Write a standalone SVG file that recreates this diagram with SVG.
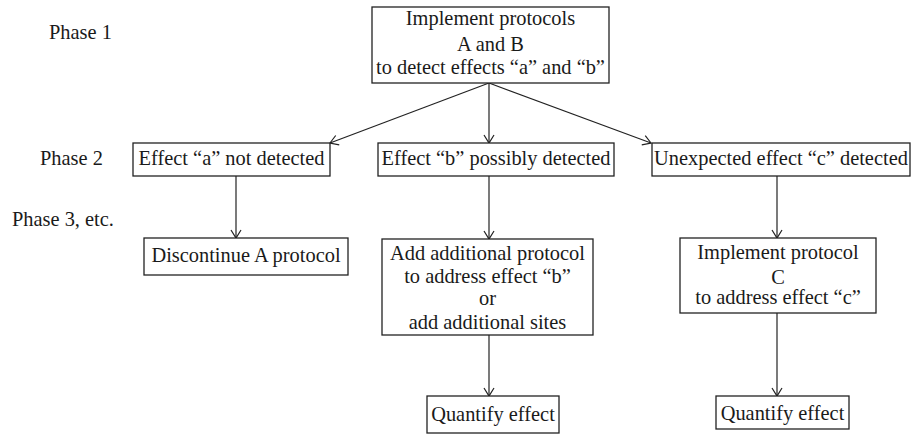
<svg xmlns="http://www.w3.org/2000/svg" width="912" height="435" viewBox="0 0 912 435">
<defs>
<marker id="arr" markerUnits="userSpaceOnUse" markerWidth="12" markerHeight="12" refX="10" refY="6" orient="auto" viewBox="0 0 12 12">
<path d="M2,1 L10,6 L2,11" fill="none" stroke="#222" stroke-width="1.2"/>
</marker>
<style>
text{font-family:'Liberation Serif','DejaVu Serif','Times New Roman',serif;font-size:20.4px;fill:#1a1a1a}
.c{text-anchor:middle}
.b{fill:#fff;stroke:#222;stroke-width:1.3}
.e{stroke:#222;stroke-width:1.2;fill:none;marker-end:url(#arr)}
</style>
</defs>
<rect width="912" height="435" fill="#fff"/>
<g id="phases">
<text x="49" y="39">Phase 1</text>
<text x="40" y="165">Phase 2</text>
<text x="12" y="226">Phase 3, etc.</text>
</g>
<g id="connectors">
<line class="e" x1="489" y1="83" x2="330" y2="143"/>
<line class="e" x1="489" y1="83" x2="489" y2="143"/>
<line class="e" x1="489" y1="83" x2="651" y2="143"/>
<line class="e" x1="236" y1="176" x2="236" y2="238"/>
<line class="e" x1="489" y1="176" x2="489" y2="239"/>
<line class="e" x1="777" y1="176" x2="777" y2="238"/>
<line class="e" x1="489" y1="335" x2="489" y2="396"/>
<line class="e" x1="777" y1="313" x2="777" y2="396"/>
</g>
<g id="n1">
<rect class="b" x="372" y="7" width="237" height="76"/>
<text class="c" x="490.5" y="25">Implement protocols</text>
<text class="c" x="490.5" y="51">A and B</text>
<text class="c" x="490.5" y="74">to detect effects “a” and “b”</text>
</g>
<g id="n2a">
<rect class="b" x="133" y="143" width="197" height="33"/>
<text class="c" x="231.5" y="165">Effect “a” not detected</text>
</g>
<g id="n2b">
<rect class="b" x="378" y="143" width="236" height="33"/>
<text class="c" x="496" y="165">Effect “b” possibly detected</text>
</g>
<g id="n2c">
<rect class="b" x="652" y="143" width="258" height="33"/>
<text class="c" x="781" y="165">Unexpected effect “c” detected</text>
</g>
<g id="n3a">
<rect class="b" x="144" y="238" width="204" height="37"/>
<text class="c" x="246" y="262">Discontinue A protocol</text>
</g>
<g id="n3b">
<rect class="b" x="382" y="239" width="211" height="96"/>
<text class="c" x="487.5" y="260">Add additional protocol</text>
<text class="c" x="487.5" y="283">to address effect “b”</text>
<text class="c" x="487.5" y="305">or</text>
<text class="c" x="487.5" y="329">add additional sites</text>
</g>
<g id="n3c">
<rect class="b" x="680" y="238" width="196" height="75"/>
<text class="c" x="778" y="259">Implement protocol</text>
<text class="c" x="778" y="284">C</text>
<text class="c" x="778" y="304">to address effect “c”</text>
</g>
<g id="n4b">
<rect class="b" x="427" y="396" width="132" height="37"/>
<text class="c" x="493" y="421">Quantify effect</text>
</g>
<g id="n4c">
<rect class="b" x="716" y="396" width="133" height="33"/>
<text class="c" x="782.5" y="420">Quantify effect</text>
</g>
</svg>
